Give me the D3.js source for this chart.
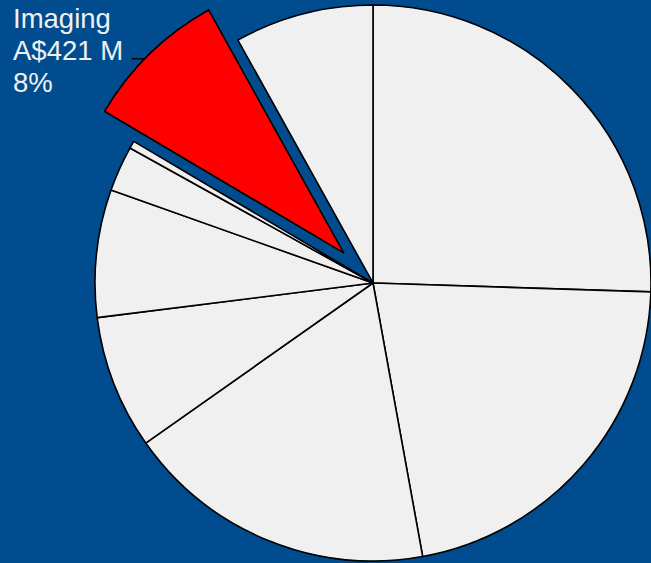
<!DOCTYPE html>
<html>
<head>
<meta charset="utf-8">
<script src="https://cdn.jsdelivr.net/npm/d3@7"></script>
<style>
  html, body { margin: 0; padding: 0; background: #014c8f; }
  svg { display: block; }
</style>
</head>
<body>
<script>
// segment revenue, A$ millions
var segments = ["Pathology", "Diagnostics", "Laboratory", "Clinical", "Services", "Consumables", "Other", "Imaging", "Corporate"];
var revenue = [1276, 1082, 905, 389, 371, 132, 22, 421, 404];
var highlight = "Imaging";

var w = 651, h = 563;
var cx = 373, cy = 283, radius = 278;
var explode = 42;

var grey = "rgb(240,240,240)";
var red = "rgb(255,0,0)";
var txt = "rgb(240,240,240)";

var total = d3.sum(revenue);
var data = segments.map(function(s, i) { return { name: s, value: revenue[i] }; });

var svg = d3.select("body").append("svg")
  .attr("width", w)
  .attr("height", h);

var pie = d3.pie().sort(null).value(function(d) { return d.value; });
var arc = d3.arc().innerRadius(0).outerRadius(radius);

var g = svg.append("g").attr("transform", "translate(" + cx + "," + cy + ")");

var arcs = pie(data);

function offset(d) {
  if (d.data.name !== highlight) return [0, 0];
  var mid = (d.startAngle + d.endAngle) / 2;
  return [Math.sin(mid) * explode, -Math.cos(mid) * explode];
}

g.selectAll("path")
  .data(arcs)
  .enter()
  .append("path")
  .attr("d", arc)
  .attr("transform", function(d) { var o = offset(d); return "translate(" + o[0] + "," + o[1] + ")"; })
  .attr("fill", function(d) { return d.data.name === highlight ? red : grey; })
  .attr("stroke", "#000")
  .attr("stroke-width", 1.6)
  .attr("stroke-linejoin", "round");

// label for the exploded slice
var hl = arcs.filter(function(d) { return d.data.name === highlight; })[0];
var o = offset(hl);
var a = (hl.startAngle + hl.endAngle) / 2 - 0.026;
var ex = cx + o[0] + Math.sin(a) * radius;
var ey = cy + o[1] - Math.cos(a) * radius;

svg.append("line")
  .attr("x1", ex - 13).attr("y1", ey)
  .attr("x2", ex).attr("y2", ey)
  .attr("stroke", "#000")
  .attr("stroke-width", 1.5);

var label = svg.append("text")
  .attr("x", 13)
  .attr("y", 28)
  .attr("fill", txt)
  .attr("font-family", "Liberation Sans, Arial, sans-serif")
  .attr("font-size", 27.5);

var lines = [
  hl.data.name,
  "A$" + hl.data.value + " M",
  Math.round(hl.data.value / total * 100) + "%"
];
label.selectAll("tspan")
  .data(lines)
  .enter()
  .append("tspan")
  .attr("x", 13)
  .attr("dy", function(d, i) { return i === 0 ? 0 : 31.8; })
  .text(function(d) { return d; });
</script>
</body>
</html>
